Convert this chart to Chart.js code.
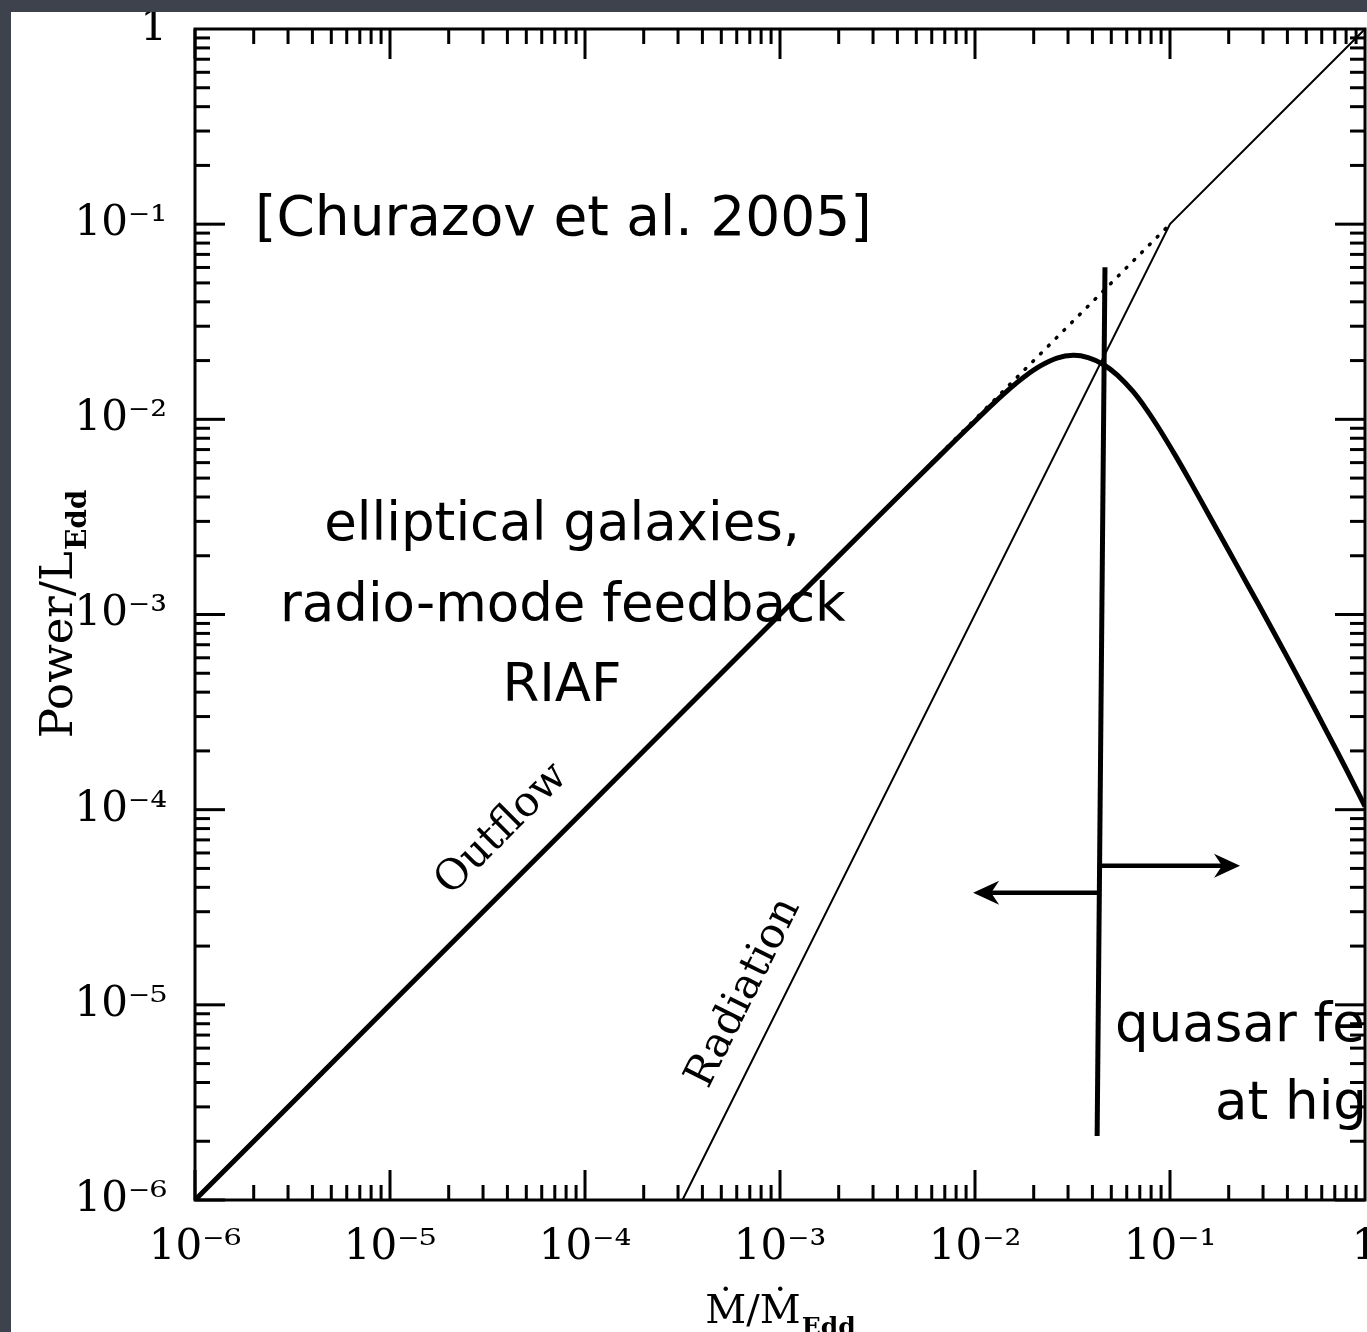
<!DOCTYPE html>
<html>
<head>
<meta charset="utf-8">
<script src="https://cdn.jsdelivr.net/npm/chart.js@4.4.1/dist/chart.umd.min.js"></script>
<style>
  html, body { margin: 0; padding: 0; width: 1367px; height: 1332px; overflow: hidden; background: #3e424c; }
  #wrap { position: absolute; left: 11px; top: 12px; width: 1356px; height: 1320px; background: #ffffff; }
  canvas { display: block; }
</style>
</head>
<body>
<div id="wrap"><canvas id="c" width="1356" height="1320"></canvas></div>
<script>
// ---------------- data ----------------
const decadeValues = [1e-6, 1e-5, 1e-4, 1e-3, 1e-2, 1e-1, 1];
const xTickLabels  = ['10\u207B\u2076', '10\u207B\u2075', '10\u207B\u2074', '10\u207B\u00B3', '10\u207B\u00B2', '10\u207B\u00B9', '1'];
const yTickLabels  = ['10\u207B\u2076', '10\u207B\u2075', '10\u207B\u2074', '10\u207B\u00B3', '10\u207B\u00B2', '10\u207B\u00B9', '1'];

// Outflow (jet) power vs accretion rate
const outflowX = [1e-6, 1e-5, 1e-4, 1e-3, 3.162e-3, 6.31e-3, 9.12e-3, 0.01202, 0.01514, 0.01778, 0.02153, 0.0263, 0.03184,
                  0.03802, 0.04529, 0.0537, 0.06457, 0.07586, 0.08913, 0.1072, 0.1271, 0.1585, 0.1995, 0.2512, 0.3162,
                  0.3981, 0.5012, 0.631, 0.7943, 1];
const outflowY = [1e-6, 1e-5, 1e-4, 1e-3, 3.148e-3, 6.237e-3, 8.94e-3, 0.01169, 0.01441, 0.01644, 0.01872, 0.02058, 0.02128,
                  0.02072, 0.01915, 0.01685, 0.01389, 0.01122, 8.77e-3, 6.46e-3, 4.795e-3, 3.228e-3, 2.133e-3, 1.409e-3, 9.29e-4,
                  6.08e-4, 3.95e-4, 2.55e-4, 1.64e-4, 1.04e-4];

// Radiation
const radiationX = [3.16e-4, 0.1, 1];
const radiationY = [1e-6, 0.1, 1];

// Dotted continuation of the outflow power law
const dottedX = [0.006, 0.1];
const dottedY = [0.006, 0.1];

// Vertical divider and the two arrows
const dividerX = [0.0464, 0.0423];
const dividerY = [0.0602, 2.13e-6];
const arrowRightX = [0.0440, 0.213];
const arrowRightY = [5.16e-5, 5.16e-5];
const arrowLeftX  = [0.0423, 0.0105];
const arrowLeftY  = [3.75e-5, 3.75e-5];

// ---------------- helpers ----------------
const pts = (xs, ys) => xs.map((x, i) => ({ x: x, y: ys[i] }));

const annotations = [
  { text: '[Churazov et al. 2005]', x: 2.03e-6, y: 0.0879, align: 'left',   font: '55px "DejaVu Sans"' },
  { text: 'elliptical galaxies,',   x: 7.62e-5, y: 2.4e-3,  align: 'center', font: '53px "DejaVu Sans"' },
  { text: 'radio-mode feedback',    x: 7.70e-5, y: 9.3e-4,  align: 'center', font: '53px "DejaVu Sans"' },
  { text: 'RIAF',                   x: 7.62e-5, y: 3.62e-4, align: 'center', font: '53px "DejaVu Sans"' },
  { text: 'quasar feedback',        x: 0.0523,  y: 6.53e-6, align: 'left',   font: '53px "DejaVu Sans"' },
  { text: 'at high z',              x: 0.170,   y: 2.6e-6,  align: 'left',   font: '53px "DejaVu Sans"' },
  { text: 'Outflow',   x: 3.75e-5, y: 7.9e-5,   align: 'center', baseline: 'middle', rot: -45,    font: '42px "DejaVu Serif"' },
  { text: 'Radiation', x: 6.55e-4, y: 1.15e-5,  align: 'center', baseline: 'middle', rot: -63.43, font: '42px "DejaVu Serif"' }
];

// ---------------- plugins ----------------
const framePlugin = {
  id: 'frame',
  afterDatasetsDraw(chart) {
    const c = chart.ctx, a = chart.chartArea, sx = chart.scales.x, sy = chart.scales.y;
    c.save();
    c.strokeStyle = '#000';
    c.lineWidth = 3;
    c.strokeRect(a.left, a.top, a.right - a.left, a.bottom - a.top);
    const seg = (x1, y1, x2, y2) => { c.beginPath(); c.moveTo(x1, y1); c.lineTo(x2, y2); c.stroke(); };
    for (let e = -6; e < 0; e++) {
      for (let m = 1; m <= 9; m++) {
        const v = m * Math.pow(10, e);
        const L = (m === 1) ? 30 : 15;
        const px = sx.getPixelForValue(v);
        const py = sy.getPixelForValue(v);
        seg(px, a.bottom, px, a.bottom - L);
        seg(px, a.top, px, a.top + L);
        seg(a.left, py, a.left + L, py);
        seg(a.right, py, a.right - L, py);
      }
    }
    c.restore();
  }
};

const arrowPlugin = {
  id: 'arrows',
  afterDatasetsDraw(chart) {
    const c = chart.ctx;
    chart.data.datasets.forEach((ds, i) => {
      if (!ds.arrowHead) return;
      const p = chart.getDatasetMeta(i).data;
      const a = p[p.length - 2], b = p[p.length - 1];
      const ang = Math.atan2(b.y - a.y, b.x - a.x);
      c.save();
      c.translate(b.x, b.y);
      c.rotate(ang);
      c.translate(6, 0);
      c.beginPath();
      c.moveTo(0, 0);
      c.lineTo(-26, -12);
      c.lineTo(-18, 0);
      c.lineTo(-26, 12);
      c.closePath();
      c.fillStyle = '#000';
      c.fill();
      c.restore();
    });
  }
};

const textPlugin = {
  id: 'texts',
  afterDraw(chart) {
    const c = chart.ctx, sx = chart.scales.x, sy = chart.scales.y, a = chart.chartArea;
    c.save();
    c.fillStyle = '#000';
    annotations.forEach(t => {
      const px = sx.getPixelForValue(t.x), py = sy.getPixelForValue(t.y);
      c.save();
      c.font = t.font;
      c.textAlign = t.align || 'left';
      c.textBaseline = t.baseline || 'alphabetic';
      c.translate(px, py);
      if (t.rot) c.rotate(t.rot * Math.PI / 180);
      c.fillText(t.text, 0, 0);
      c.restore();
    });

    // x axis title: M-dot / M-dot_Edd
    const mainX = '\u1E40/\u1E40', subX = 'Edd';
    const fMainX = '40px "DejaVu Serif"', fSubX = 'bold 25px "DejaVu Serif"';
    c.font = fMainX;
    const w1 = c.measureText(mainX).width;
    c.font = fSubX;
    const w2 = c.measureText(subX).width;
    const cx = (a.left + a.right) / 2;
    const x0 = cx - (w1 + w2) / 2;
    c.textAlign = 'left';
    c.textBaseline = 'alphabetic';
    c.font = fMainX;
    c.fillText(mainX, x0, 1311);
    c.font = fSubX;
    c.fillText(subX, x0 + w1 + 1, 1323);

    // y axis title: Power / L_Edd
    const mainY = 'Power/L', subY = 'Edd';
    const fMainY = '45px "DejaVu Serif"', fSubY = 'bold 28px "DejaVu Serif"';
    c.font = fMainY;
    const h1 = c.measureText(mainY).width;
    c.font = fSubY;
    const h2 = c.measureText(subY).width;
    const cy = (a.top + a.bottom) / 2;
    c.save();
    c.translate(61, cy);
    c.rotate(-Math.PI / 2);
    const s0 = -(h1 + h2) / 2;
    c.font = fMainY;
    c.fillText(mainY, s0, 0);
    c.font = fSubY;
    c.fillText(subY, s0 + h1 + 1, 14);
    c.restore();
    c.restore();
  }
};

// ---------------- chart ----------------
const tickFont = { family: '"DejaVu Serif"', size: 42 };

new Chart(document.getElementById('c').getContext('2d'), {
  type: 'line',
  data: {
    datasets: [
      { label: 'Outflow', data: pts(outflowX, outflowY), borderColor: '#000', borderWidth: 5, pointRadius: 0, tension: 0.4, fill: false },
      { label: 'Radiation', data: pts(radiationX, radiationY), borderColor: '#000', borderWidth: 2, pointRadius: 0, tension: 0, fill: false },
      { label: 'Outflow power law', data: pts(dottedX, dottedY), borderColor: '#000', borderWidth: 3.5, borderDash: [1, 10], borderCapStyle: 'round', pointRadius: 0, fill: false },
      { label: 'Divider', data: pts(dividerX, dividerY), borderColor: '#000', borderWidth: 5, pointRadius: 0, fill: false },
      { label: 'Arrow right', data: pts(arrowRightX, arrowRightY), borderColor: '#000', borderWidth: 4.5, pointRadius: 0, fill: false, arrowHead: true },
      { label: 'Arrow left', data: pts(arrowLeftX, arrowLeftY), borderColor: '#000', borderWidth: 4.5, pointRadius: 0, fill: false, arrowHead: true }
    ]
  },
  options: {
    responsive: false,
    animation: false,
    devicePixelRatio: 1,
    layout: { padding: { top: 17, right: 2, left: 0, bottom: 0 } },
    plugins: { legend: { display: false }, tooltip: { enabled: false } },
    scales: {
      x: {
        type: 'logarithmic', position: 'bottom', min: 1e-6, max: 1,
        afterBuildTicks: s => { s.ticks = decadeValues.map(v => ({ value: v })); },
        afterFit: s => { s.height = 132; s.paddingLeft = 0; s.paddingRight = 0; },
        grid: { display: false, drawTicks: false },
        border: { display: false },
        ticks: { autoSkip: false, maxRotation: 0, minRotation: 0, padding: 23, color: '#000', font: tickFont,
                 callback: (v, i) => xTickLabels[i] }
      },
      y: {
        type: 'logarithmic', position: 'left', min: 1e-6, max: 1,
        afterBuildTicks: s => { s.ticks = decadeValues.map(v => ({ value: v })); },
        afterFit: s => { s.width = 184; s.paddingTop = 0; s.paddingBottom = 0; },
        grid: { display: false, drawTicks: false },
        border: { display: false },
        ticks: { autoSkip: false, padding: 28, color: '#000', font: tickFont,
                 callback: (v, i) => yTickLabels[i] }
      }
    }
  },
  plugins: [framePlugin, arrowPlugin, textPlugin]
});
</script>
</body>
</html>
